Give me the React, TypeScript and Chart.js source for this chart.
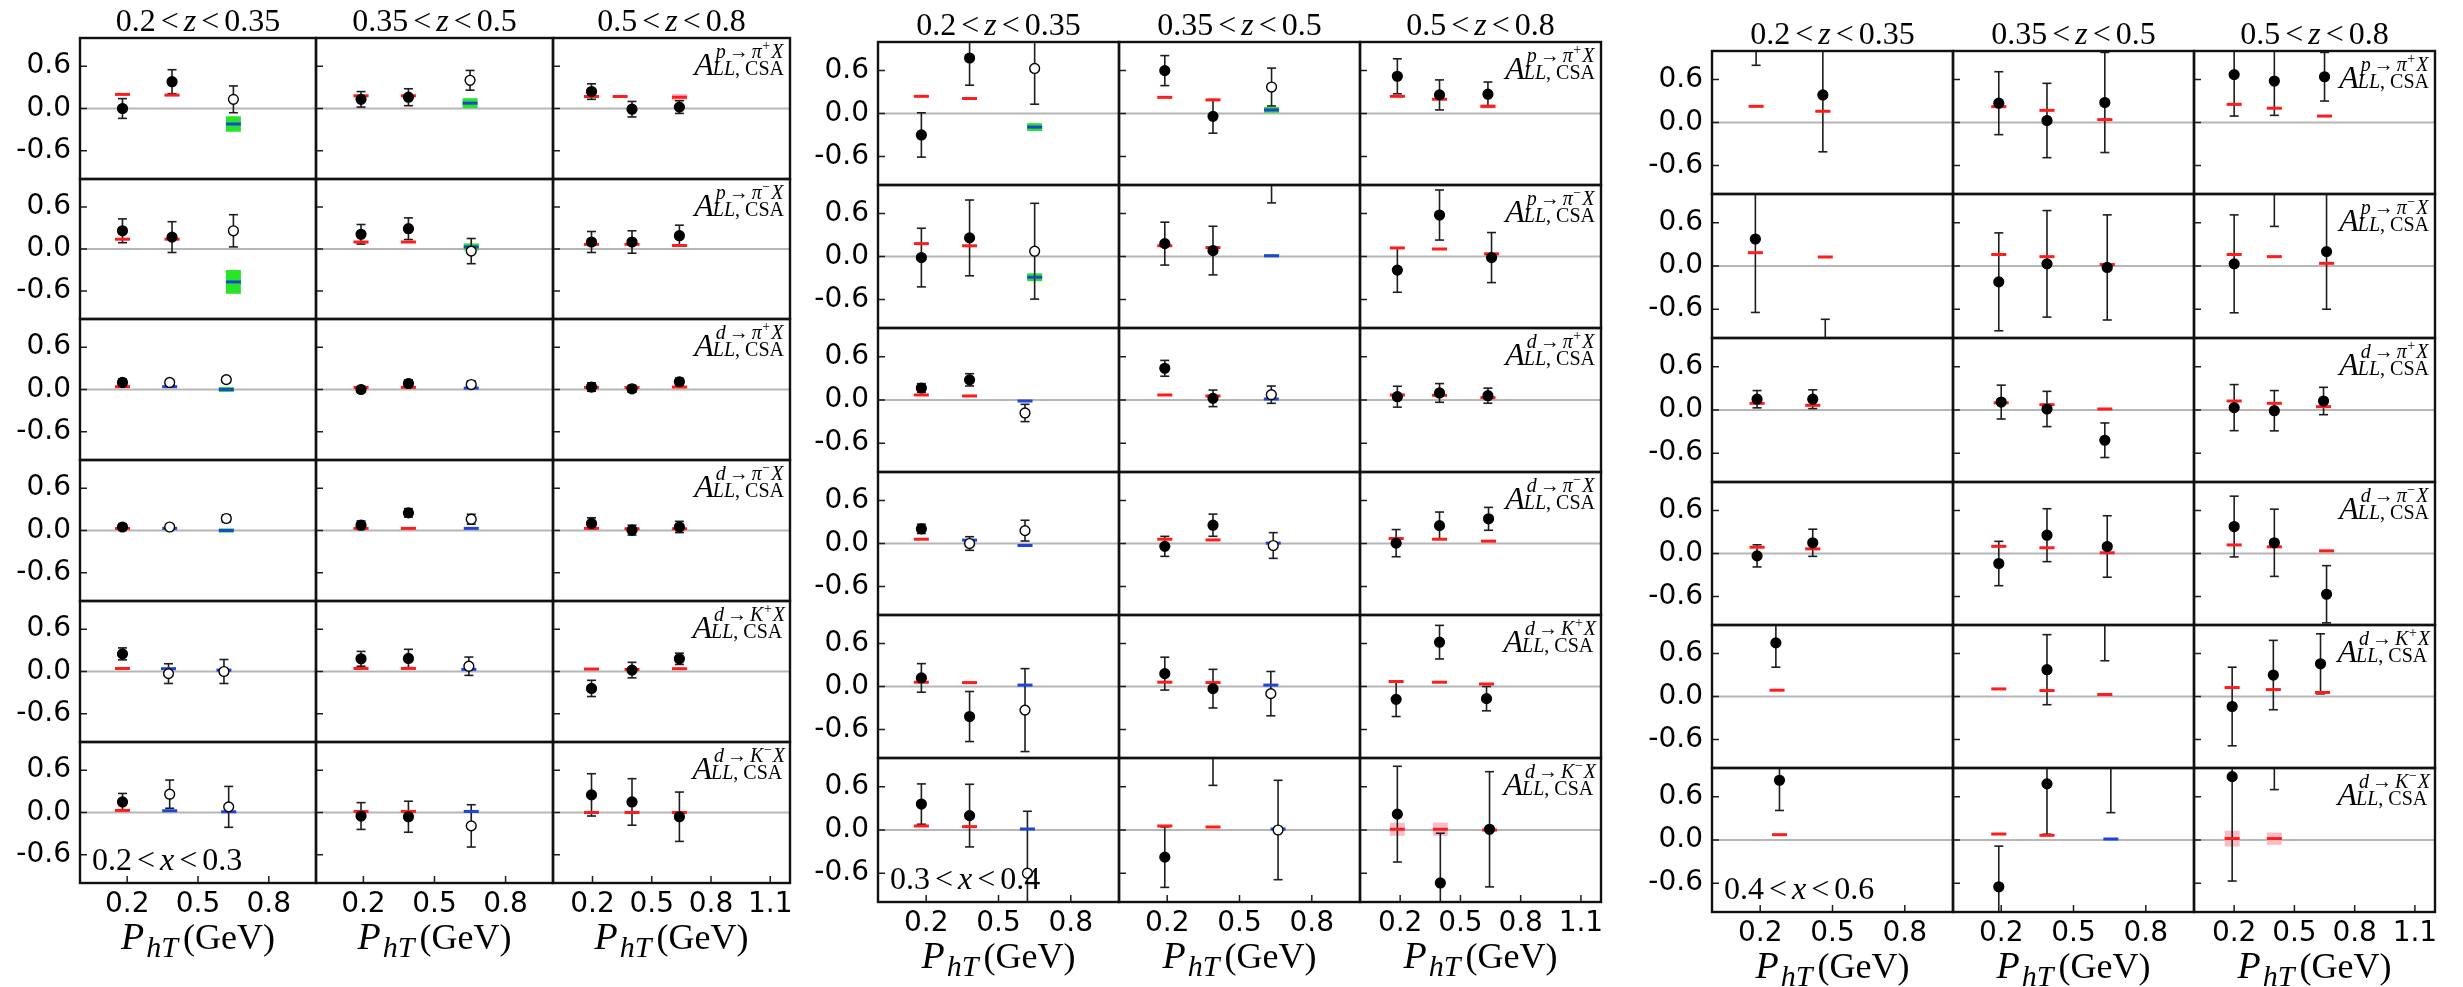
import React, { useEffect, useRef } from 'react';
import { Chart, registerables } from 'chart.js';

Chart.register(...registerables);

// ---------------- data ----------------
const Z_BINS = [['0.2', '0.35'], ['0.35', '0.5'], ['0.5', '0.8']];
const X_BINS = [['0.2', '0.3'], ['0.3', '0.4'], ['0.4', '0.6']];
const CHANNELS = [
  ['p', 'π', '+'], ['p', 'π', '−'], ['d', 'π', '+'],
  ['d', 'π', '−'], ['d', 'K', '+'], ['d', 'K', '−'],
];
const Y_TICKS = [-0.6, 0, 0.6];
const X_TICKS = [[0.2, 0.5, 0.8], [0.2, 0.5, 0.8], [0.2, 0.5, 0.8, 1.1]];
const X_MAX = [1.0, 1.0, 1.2];

// measured points: [P_hT, A_LL, error, open marker (1) / filled (0)]  -> [row][col][point]
const G1_POINTS = [
  [[[0.18, 0.0, 0.14, 0], [0.39, 0.38, 0.17, 0], [0.65, 0.13, 0.19, 1]],
   [[0.19, 0.13, 0.11, 0], [0.39, 0.16, 0.12, 0], [0.65, 0.4, 0.14, 1]],
   [[0.195, 0.24, 0.11, 0], [0.4, -0.01, 0.11, 0], [0.64, 0.02, 0.09, 0]]],
  [[[0.18, 0.26, 0.17, 0], [0.39, 0.17, 0.22, 0], [0.65, 0.26, 0.23, 1]],
   [[0.19, 0.21, 0.14, 0], [0.39, 0.29, 0.155, 0], [0.655, -0.03, 0.18, 1]],
   [[0.195, 0.1, 0.15, 0], [0.4, 0.1, 0.16, 0], [0.64, 0.19, 0.15, 0]]],
  [[[0.18, 0.1, 0.05, 0], [0.38, 0.1, 0.04, 1], [0.62, 0.14, 0.04, 1]],
   [[0.19, 0.0, 0.04, 0], [0.39, 0.085, 0.05, 0], [0.655, 0.07, 0.05, 1]],
   [[0.195, 0.035, 0.06, 0], [0.4, 0.01, 0.05, 0], [0.64, 0.11, 0.05, 0]]],
  [[[0.18, 0.05, 0.04, 0], [0.38, 0.05, 0.03, 1], [0.62, 0.17, 0.05, 1]],
   [[0.19, 0.075, 0.06, 0], [0.39, 0.25, 0.06, 0], [0.655, 0.16, 0.07, 1]],
   [[0.195, 0.1, 0.08, 0], [0.4, 0.005, 0.07, 0], [0.64, 0.05, 0.08, 0]]],
  [[[0.18, 0.25, 0.085, 0], [0.375, -0.03, 0.14, 1], [0.61, 0.0, 0.17, 1]],
   [[0.19, 0.18, 0.105, 0], [0.39, 0.185, 0.13, 0], [0.645, 0.075, 0.13, 1]],
   [[0.195, -0.24, 0.115, 0], [0.4, 0.02, 0.11, 0], [0.64, 0.18, 0.08, 0]]],
  [[[0.18, 0.15, 0.12, 0], [0.38, 0.26, 0.2, 1], [0.63, 0.08, 0.29, 1]],
   [[0.19, -0.05, 0.19, 0], [0.39, -0.06, 0.22, 0], [0.655, -0.19, 0.3, 1]],
   [[0.195, 0.25, 0.3, 0], [0.4, 0.15, 0.33, 0], [0.64, -0.06, 0.35, 0]]],
];

// model curves: [P_hT, value, half band, kind (0 red / 1 blue)]
const G1_CURVES = [
  [[[0.18, 0.2, 0, 0], [0.39, 0.19, 0.01, 0], [0.65, -0.22, 0.11, 1]],
   [[0.19, 0.18, 0.015, 0], [0.39, 0.18, 0.015, 0], [0.65, 0.076, 0.07, 1]],
   [[0.195, 0.17, 0.02, 0], [0.34, 0.17, 0, 0], [0.64, 0.16, 0.045, 0]]],
  [[[0.18, 0.14, 0.01, 0], [0.39, 0.14, 0.01, 0], [0.65, -0.47, 0.17, 1]],
   [[0.19, 0.1, 0.01, 0], [0.39, 0.1, 0, 0], [0.655, 0.03, 0.05, 1]],
   [[0.195, 0.066, 0.01, 0], [0.4, 0.066, 0.01, 0], [0.64, 0.05, 0.01, 0]]],
  [[[0.18, 0.04, 0.01, 0], [0.38, 0.04, 0, 1], [0.62, 0.0, 0.035, 1]],
   [[0.19, 0.03, 0.01, 0], [0.39, 0.03, 0.01, 0], [0.655, 0.02, 0, 1]],
   [[0.195, 0.03, 0.01, 0], [0.4, 0.03, 0.01, 0], [0.64, 0.035, 0.01, 0]]],
  [[[0.18, 0.03, 0.01, 0], [0.38, 0.03, 0, 1], [0.62, 0.0, 0.03, 1]],
   [[0.19, 0.03, 0.01, 0], [0.39, 0.03, 0, 0], [0.655, 0.03, 0, 1]],
   [[0.195, 0.03, 0.01, 0], [0.4, 0.025, 0.01, 0], [0.64, 0.025, 0.01, 0]]],
  [[[0.18, 0.043, 0, 0], [0.375, 0.04, 0, 1], [0.61, 0.02, 0, 1]],
   [[0.19, 0.043, 0, 0], [0.39, 0.043, 0, 0], [0.645, 0.03, 0, 1]],
   [[0.195, 0.035, 0, 0], [0.4, 0.03, 0, 0], [0.64, 0.04, 0, 0]]],
  [[[0.18, 0.03, 0.01, 0], [0.38, 0.025, 0, 1], [0.63, 0.01, 0.012, 1]],
   [[0.19, 0.015, 0, 0], [0.39, 0.015, 0, 0], [0.655, 0.015, 0, 1]],
   [[0.195, 0.0, 0.01, 0], [0.4, 0.0, 0.01, 0], [0.64, 0.0, 0.01, 0]]],
];

const G2_POINTS = [
  [[[0.18, -0.3, 0.31, 0], [0.38, 0.776, 0.38, 0], [0.65, 0.63, 0.5, 1]],
   [[0.19, 0.6, 0.21, 0], [0.39, -0.04, 0.235, 0], [0.633, 0.37, 0.265, 1]],
   [[0.186, 0.52, 0.245, 0], [0.396, 0.26, 0.21, 0], [0.637, 0.27, 0.17, 0]]],
  [[[0.18, -0.015, 0.41, 0], [0.38, 0.26, 0.53, 0], [0.65, 0.074, 0.67, 1]],
   [[0.19, 0.18, 0.3, 0], [0.39, 0.083, 0.34, 0], [0.633, 1.45, 0.7, 1]],
   [[0.186, -0.19, 0.31, 0], [0.396, 0.58, 0.35, 0], [0.655, -0.015, 0.35, 0]]],
  [[[0.18, 0.167, 0.06, 0], [0.38, 0.28, 0.085, 0], [0.61, -0.18, 0.12, 1]],
   [[0.19, 0.44, 0.11, 0], [0.39, 0.023, 0.115, 0], [0.632, 0.074, 0.12, 1]],
   [[0.186, 0.046, 0.145, 0], [0.396, 0.098, 0.13, 0], [0.637, 0.06, 0.105, 0]]],
  [[[0.18, 0.205, 0.065, 0], [0.38, 0.0, 0.095, 1], [0.61, 0.18, 0.145, 1]],
   [[0.19, -0.04, 0.14, 0], [0.39, 0.256, 0.155, 0], [0.64, -0.028, 0.18, 1]],
   [[0.18, 0.005, 0.19, 0], [0.396, 0.25, 0.19, 0], [0.64, 0.345, 0.16, 0]]],
  [[[0.18, 0.12, 0.2, 0], [0.38, -0.42, 0.35, 0], [0.61, -0.33, 0.58, 1]],
   [[0.19, 0.18, 0.23, 0], [0.39, -0.03, 0.27, 0], [0.63, -0.1, 0.31, 1]],
   [[0.18, -0.18, 0.24, 0], [0.396, 0.62, 0.235, 0], [0.63, -0.17, 0.17, 0]]],
  [[[0.18, 0.36, 0.28, 0], [0.38, 0.2, 0.435, 0], [0.62, -0.6, 0.86, 1]],
   [[0.19, -0.377, 0.42, 0], [0.39, 1.3, 0.68, 0], [0.66, 0.0, 0.69, 1]],
   [[0.186, 0.22, 0.665, 0], [0.4, -0.735, 0.69, 0], [0.645, 0.01, 0.8, 0]]],
];

const G2_CURVES = [
  [[[0.18, 0.24, 0.01, 0], [0.38, 0.21, 0.01, 0], [0.65, -0.19, 0.055, 1]],
   [[0.19, 0.226, 0.01, 0], [0.39, 0.19, 0.01, 0], [0.633, 0.05, 0.04, 1]],
   [[0.186, 0.24, 0.01, 0], [0.396, 0.2, 0.01, 0], [0.637, 0.1, 0.03, 0]]],
  [[[0.18, 0.18, 0, 0], [0.38, 0.15, 0, 0], [0.65, -0.29, 0.055, 1]],
   [[0.19, 0.15, 0.01, 0], [0.39, 0.125, 0.01, 0], [0.633, 0.01, 0.02, 1]],
   [[0.186, 0.12, 0, 0], [0.396, 0.105, 0, 0], [0.655, 0.037, 0.02, 0]]],
  [[[0.18, 0.07, 0, 0], [0.38, 0.056, 0, 0], [0.61, -0.014, 0, 1]],
   [[0.19, 0.07, 0, 0], [0.39, 0.056, 0.01, 0], [0.632, 0.014, 0, 1]],
   [[0.186, 0.07, 0.01, 0], [0.396, 0.065, 0.01, 0], [0.637, 0.033, 0.01, 0]]],
  [[[0.18, 0.06, 0, 0], [0.38, 0.047, 0, 1], [0.61, -0.028, 0, 1]],
   [[0.19, 0.06, 0.01, 0], [0.39, 0.05, 0, 0], [0.64, 0.005, 0, 1]],
   [[0.18, 0.07, 0.01, 0], [0.396, 0.06, 0.01, 0], [0.64, 0.033, 0, 0]]],
  [[[0.18, 0.06, 0.01, 0], [0.38, 0.055, 0, 0], [0.61, 0.02, 0, 1]],
   [[0.19, 0.06, 0.01, 0], [0.39, 0.055, 0.01, 0], [0.63, 0.02, 0, 1]],
   [[0.18, 0.07, 0, 0], [0.396, 0.06, 0, 0], [0.63, 0.035, 0.01, 0]]],
  [[[0.18, 0.056, 0.01, 0], [0.38, 0.047, 0.01, 0], [0.62, 0.014, 0, 1]],
   [[0.19, 0.056, 0.01, 0], [0.39, 0.042, 0, 0], [0.66, 0.014, 0, 1]],
   [[0.186, 0.01, 0.09, 0], [0.4, 0.01, 0.09, 0], [0.645, 0.0, 0.01, 0]]],
];

const G3_POINTS = [
  [[[0.183, 1.25, 0.45, 0], [0.46, 0.385, 0.795, 0]],
   [[0.19, 0.27, 0.44, 0], [0.39, 0.028, 0.52, 0], [0.63, 0.28, 0.7, 0]],
   [[0.2, 0.67, 0.58, 0], [0.4, 0.58, 0.48, 0], [0.65, 0.64, 0.34, 0]]],
  [[[0.18, 0.375, 1.02, 0], [0.47, -1.4, 0.66, 0]],
   [[0.19, -0.22, 0.68, 0], [0.39, 0.03, 0.74, 0], [0.64, -0.02, 0.73, 0]],
   [[0.2, 0.03, 0.68, 0], [0.4, 1.2, 0.65, 0], [0.66, 0.2, 0.8, 0]]],
  [[[0.187, 0.15, 0.12, 0], [0.418, 0.15, 0.13, 0]],
   [[0.2, 0.11, 0.235, 0], [0.39, 0.014, 0.245, 0], [0.63, -0.42, 0.24, 0]],
   [[0.2, 0.033, 0.32, 0], [0.4, -0.01, 0.28, 0], [0.645, 0.125, 0.19, 0]]],
  [[[0.187, -0.033, 0.155, 0], [0.418, 0.15, 0.19, 0]],
   [[0.19, -0.14, 0.31, 0], [0.39, 0.256, 0.37, 0], [0.64, 0.098, 0.43, 0]],
   [[0.2, 0.377, 0.425, 0], [0.4, 0.15, 0.47, 0], [0.66, -0.57, 0.4, 0]]],
  [[[0.265, 0.75, 0.34, 0]],
   [[0.39, 0.375, 0.49, 0], [0.63, 1.2, 0.7, 0]],
   [[0.19, -0.14, 0.55, 0], [0.395, 0.3, 0.485, 0], [0.63, 0.457, 0.42, 0]]],
  [[[0.28, 0.83, 0.42, 0]],
   [[0.19, -0.65, 0.565, 0], [0.39, 0.78, 0.7, 0], [0.655, 1.1, 0.72, 0]],
   [[0.19, 0.88, 1.45, 0], [0.4, 1.4, 0.7, 0]]],
];

const G3_CURVES = [
  [[[0.183, 0.226, 0.01, 0], [0.46, 0.157, 0.01, 0]],
   [[0.19, 0.222, 0.01, 0], [0.39, 0.17, 0.01, 0], [0.63, 0.04, 0.02, 0]],
   [[0.2, 0.254, 0.02, 0], [0.4, 0.2, 0.01, 0], [0.65, 0.09, 0.01, 0]]],
  [[[0.18, 0.185, 0.01, 0], [0.47, 0.125, 0, 0]],
   [[0.19, 0.16, 0.01, 0], [0.39, 0.13, 0.01, 0], [0.64, 0.02, 0.02, 0]],
   [[0.2, 0.16, 0.01, 0], [0.4, 0.13, 0, 0], [0.66, 0.037, 0.01, 0]]],
  [[[0.187, 0.093, 0.01, 0], [0.418, 0.065, 0.01, 0]],
   [[0.2, 0.1, 0.01, 0], [0.39, 0.074, 0.01, 0], [0.63, 0.014, 0, 0]],
   [[0.2, 0.125, 0.01, 0], [0.4, 0.093, 0.01, 0], [0.645, 0.046, 0.01, 0]]],
  [[[0.187, 0.088, 0.01, 0], [0.418, 0.065, 0.01, 0]],
   [[0.19, 0.1, 0.01, 0], [0.39, 0.08, 0.01, 0], [0.64, 0.01, 0.01, 0]],
   [[0.2, 0.12, 0.01, 0], [0.4, 0.093, 0.01, 0], [0.66, 0.037, 0.01, 0]]],
  [[[0.27, 0.088, 0, 0]],
   [[0.19, 0.106, 0, 0], [0.39, 0.083, 0.01, 0], [0.63, 0.028, 0.01, 0]],
   [[0.19, 0.125, 0.01, 0], [0.395, 0.097, 0.01, 0], [0.64, 0.056, 0.01, 0]]],
  [[[0.28, 0.074, 0, 0]],
   [[0.19, 0.083, 0.01, 0], [0.39, 0.065, 0.01, 0], [0.655, 0.014, 0, 1]],
   [[0.19, 0.02, 0.11, 0], [0.4, 0.02, 0.085, 0]]],
];

const POINTS = [G1_POINTS, G2_POINTS, G3_POINTS];
const CURVES = [G1_CURVES, G2_CURVES, G3_CURVES];

// ---------------- layout / style ----------------
const FRAMES = [
  { cols: [80, 316, 553, 790], rows: [38, 179, 319, 460, 601, 742, 883] },
  { cols: [878, 1119, 1360, 1601], rows: [42, 185, 328, 472, 615, 758, 902] },
  { cols: [1712, 1953, 2194, 2435], rows: [51, 194, 338, 482, 625, 768, 912] },
];
const SERIF = '"Liberation Serif", "DejaVu Serif", serif';
const SANS = '"DejaVu Sans", sans-serif';
const RED = '#ff1c1c';
const BLUE = '#1f44d8';
const PINK = '#f8bcc6';
const GREEN = '#26e426';
const INK = '#1e1e1e';
const FRAME = '#111111';

type Piece = { t: string; size: number; italic?: boolean; dy?: number; gap?: number };

function fontOf(p: Piece) {
  return `${p.italic ? 'italic ' : ''}${p.size}px ${SERIF}`;
}
function measurePieces(ctx: CanvasRenderingContext2D, pieces: Piece[]) {
  return pieces.map((p) => {
    ctx.font = fontOf(p);
    return ctx.measureText(p.t).width + (p.gap ?? 0);
  });
}
function drawPieces(ctx: CanvasRenderingContext2D, pieces: Piece[], x: number, y: number, align: string) {
  const ws = measurePieces(ctx, pieces);
  const total = ws.reduce((s, w) => s + w, 0);
  let cx = align === 'center' ? x - total / 2 : align === 'right' ? x - total : x;
  pieces.forEach((p, i) => {
    ctx.font = fontOf(p);
    ctx.fillText(p.t, cx, y + (p.dy ?? 0));
    cx += ws[i];
  });
  return total;
}
function binPieces(lo: string, v: string, hi: string): Piece[] {
  return [
    { t: lo, size: 32, gap: 5 },
    { t: '<', size: 32, gap: 5 },
    { t: v, size: 32, italic: true, gap: 5 },
    { t: '<', size: 32, gap: 5 },
    { t: hi, size: 32 },
  ];
}

const panelPlugin = {
  id: 'panelDeco',
  beforeDatasetsDraw(chart: any) {
    const { ctx, chartArea: a, scales } = chart;
    const y0 = scales.y.getPixelForValue(0);
    ctx.save();
    ctx.strokeStyle = '#b6b6b6';
    ctx.lineWidth = 2;
    ctx.beginPath();
    ctx.moveTo(a.left, y0);
    ctx.lineTo(a.right, y0);
    ctx.stroke();
    ctx.restore();
  },
  afterDatasetsDraw(chart: any, _args: any, opts: any) {
    const { ctx, chartArea: a, scales } = chart;
    const { g, r, c } = opts;
    ctx.save();
    ctx.strokeStyle = INK;
    ctx.lineWidth = 1.5;
    ctx.beginPath();
    for (const v of Y_TICKS) {
      const py = scales.y.getPixelForValue(v);
      ctx.moveTo(a.left, py);
      ctx.lineTo(a.left + 7, py);
    }
    if (r === 5) {
      for (const v of X_TICKS[c]) {
        const px = scales.x.getPixelForValue(v);
        ctx.moveTo(px, a.bottom);
        ctx.lineTo(px, a.bottom - 7);
      }
    }
    ctx.stroke();
    ctx.strokeStyle = FRAME;
    ctx.lineWidth = 2.4;
    ctx.strokeRect(a.left, a.top, a.right - a.left, a.bottom - a.top);

    ctx.fillStyle = '#000';
    ctx.textAlign = 'left';
    ctx.textBaseline = 'alphabetic';
    if (c === 2) {
      const [beam, had, ch] = CHANNELS[r];
      const sup: Piece[] = [
        { t: beam, size: 20, italic: true, gap: 3 },
        { t: '→', size: 20, gap: 3 },
        { t: had, size: 20, italic: true, gap: 0.5 },
        { t: ch, size: 14, dy: -8, gap: 1 },
        { t: 'X', size: 20, italic: true },
      ];
      const sub: Piece[] = [
        { t: 'LL', size: 20, italic: true },
        { t: ', ', size: 20 },
        { t: 'CSA', size: 20 },
      ];
      const supW = measurePieces(ctx, sup).reduce((s, w) => s + w, 0);
      const subW = measurePieces(ctx, sub).reduce((s, w) => s + w, 0);
      ctx.font = `italic 32px ${SERIF}`;
      const aW = ctx.measureText('A').width;
      const xs = a.right - 5 - Math.max(supW + 2, subW);
      ctx.fillText('A', xs - aW, a.top + 37);
      drawPieces(ctx, sup, xs + 2, a.top + 20, 'left');
      drawPieces(ctx, sub, xs - 1, a.top + 37, 'left');
    }
    const cx = (a.left + a.right) / 2;
    if (r === 0) {
      drawPieces(ctx, binPieces(Z_BINS[c][0], 'z', Z_BINS[c][1]), cx, a.top - 7, 'center');
    }
    if (r === 5) {
      drawPieces(ctx, [
        { t: 'P', size: 38, italic: true, gap: 2 },
        { t: 'hT', size: 30, italic: true, dy: 8, gap: 5 },
        { t: '(GeV)', size: 36 },
      ], cx, a.bottom + 66, 'center');
      if (c === 0) {
        drawPieces(ctx, binPieces(X_BINS[g][0], 'x', X_BINS[g][1]), a.left + 12, a.bottom - 13, 'left');
      }
    }
    ctx.restore();
  },
};

function segs(list: number[][], lo: (k: number[]) => number, hi: (k: number[]) => number) {
  const out: any[] = [];
  for (const k of list) {
    out.push({ x: k[0], y: lo(k) }, { x: k[0], y: hi(k) }, { x: k[0], y: null });
  }
  return out;
}

function buildConfig(g: number, r: number, c: number, pad: any) {
  const pts = POINTS[g][r][c];
  const cvs = CURVES[g][r][c];
  const pinkList = cvs.filter((k) => k[2] > 0 && k[3] === 0);
  const greenList = cvs.filter((k) => k[2] > 0 && k[3] === 1);
  const datasets: any[] = [
    {
      type: 'line', data: segs(pinkList, (k) => k[1] - k[2], (k) => k[1] + k[2]),
      borderColor: PINK, borderWidth: 15, borderCapStyle: 'butt', pointRadius: 0,
      spanGaps: false, clip: 0, order: 6,
    },
    {
      type: 'line', data: segs(greenList, (k) => k[1] - k[2], (k) => k[1] + k[2]),
      borderColor: GREEN, borderWidth: 15, borderCapStyle: 'butt', pointRadius: 0,
      spanGaps: false, clip: 0, order: 5,
    },
    {
      type: 'line', data: segs(pts, (p) => p[1] - p[2], (p) => p[1] + p[2]),
      borderColor: INK, borderWidth: 1.6, pointRadius: 0, spanGaps: false, clip: 0, order: 4,
    },
    {
      type: 'scatter',
      data: pts.flatMap((p) => [{ x: p[0], y: p[1] - p[2] }, { x: p[0], y: p[1] + p[2] }]),
      pointStyle: 'line', pointRadius: 4.5, pointBorderWidth: 1.6, pointBorderColor: INK,
      clip: 0, order: 3,
    },
    {
      type: 'scatter', data: cvs.map((k) => ({ x: k[0], y: k[1] })),
      pointStyle: 'line', pointRadius: 7.5, pointBorderWidth: 3,
      pointBorderColor: cvs.map((k) => (k[3] ? BLUE : RED)), clip: 0, order: 2,
    },
    {
      type: 'scatter', data: pts.map((p) => ({ x: p[0], y: p[1] })),
      pointStyle: 'circle', pointRadius: 4.9, pointBorderWidth: 1.4, pointBorderColor: '#000',
      pointBackgroundColor: pts.map((p) => (p[3] ? '#fff' : '#000')), clip: 0, order: 1,
    },
  ];
  return {
    type: 'scatter',
    data: { datasets },
    plugins: [panelPlugin],
    options: {
      animation: false,
      responsive: false,
      events: [],
      layout: { autoPadding: false, padding: { top: pad.t, right: pad.r, left: 0, bottom: 0 } },
      plugins: { legend: { display: false }, tooltip: { enabled: false }, panelDeco: { g, r, c } },
      scales: {
        x: {
          type: 'linear', min: 0, max: X_MAX[c],
          grid: { display: false, drawTicks: false }, border: { display: false },
          afterBuildTicks: (s: any) => { s.ticks = X_TICKS[c].map((v) => ({ value: v })); },
          afterFit: (s: any) => { s.height = pad.b; s.paddingLeft = 0; s.paddingRight = 0; },
          ticks: {
            display: r === 5, autoSkip: false, maxRotation: 0, minRotation: 0, padding: 5,
            color: '#000', font: { family: SANS, size: 28 },
            callback: (v: any) => Number(v).toFixed(1),
          },
        },
        y: {
          type: 'linear', min: -1, max: 1,
          grid: { display: false, drawTicks: false }, border: { display: false },
          afterBuildTicks: (s: any) => { s.ticks = Y_TICKS.map((v) => ({ value: v })); },
          afterFit: (s: any) => { s.width = pad.l; s.paddingTop = 0; s.paddingBottom = 0; },
          ticks: {
            display: c === 0, autoSkip: false, padding: 9,
            color: '#000', font: { family: SANS, size: 28 },
            callback: (v: any) => Number(v).toFixed(1),
          },
        },
      },
    },
  };
}

function Panel({ g, r, c }: { g: number; r: number; c: number }) {
  const ref = useRef<HTMLCanvasElement>(null);
  const f = FRAMES[g];
  const pad = { l: c === 0 ? 80 : 4, r: c === 2 ? 30 : 4, t: r === 0 ? 50 : 4, b: r === 5 ? 85 : 4 };
  const pw = f.cols[c + 1] - f.cols[c];
  const ph = f.rows[r + 1] - f.rows[r];
  const W = pad.l + pw + pad.r;
  const H = pad.t + ph + pad.b;
  useEffect(() => {
    const chart = new Chart(ref.current as HTMLCanvasElement, buildConfig(g, r, c, pad) as any);
    return () => chart.destroy();
  }, []);
  return (
    <canvas
      ref={ref}
      width={W}
      height={H}
      style={{ position: 'absolute', left: f.cols[c] - pad.l, top: f.rows[r] - pad.t, width: W, height: H }}
    />
  );
}

export default function App() {
  const panels: any[] = [];
  for (let g = 0; g < 3; g++) {
    for (let r = 0; r < 6; r++) {
      for (let c = 0; c < 3; c++) {
        panels.push(<Panel key={`${g}-${r}-${c}`} g={g} r={r} c={c} />);
      }
    }
  }
  return (
    <div style={{ position: 'absolute', left: 0, top: 0, width: 2463, height: 987, overflow: 'hidden', background: '#fff' }}>
      {panels}
    </div>
  );
}
